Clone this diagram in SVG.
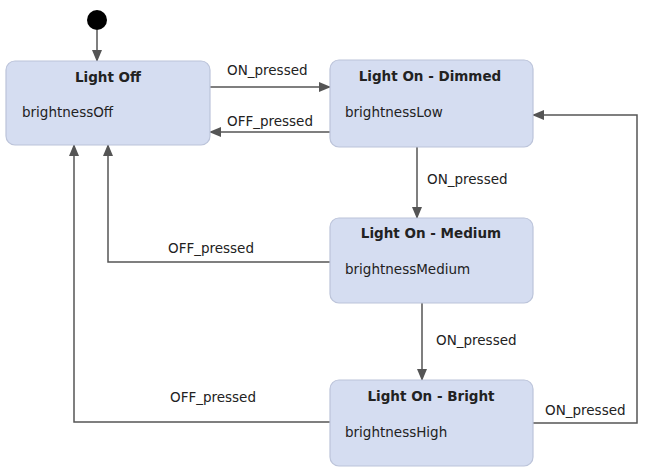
<svg xmlns="http://www.w3.org/2000/svg" width="649" height="472" viewBox="0 0 649 472">
<style>
.box{fill:#d5ddf1;stroke:#bcc4da;stroke-width:1.2}
.t{font-family:"DejaVu Sans",Verdana,sans-serif;font-size:13.5px;fill:#222}
.b{font-weight:bold;text-anchor:middle}
.c{fill:none;stroke:#555;stroke-width:1.5}
</style>
<defs>
<marker id="ah" markerWidth="12" markerHeight="10" refX="11" refY="5" orient="auto" markerUnits="userSpaceOnUse">
<path d="M0,0 L12,5 L0,10 z" fill="#555"/>
</marker>
</defs>
<rect width="649" height="472" fill="#fff"/>
<g id="connectors">
<path class="c" d="M97 30 V61" marker-end="url(#ah)"/>
<path class="c" d="M210 87 H330" marker-end="url(#ah)"/>
<path class="c" d="M330 132 H210" marker-end="url(#ah)"/>
<path class="c" d="M417 147 V218" marker-end="url(#ah)"/>
<path class="c" d="M330 262 H108 V145" marker-end="url(#ah)"/>
<path class="c" d="M422 303 V380" marker-end="url(#ah)"/>
<path class="c" d="M330 422 H74 V145" marker-end="url(#ah)"/>
<path class="c" d="M533 423 H637 V115 H533" marker-end="url(#ah)"/>
<text class="t" x="227" y="75">ON_pressed</text>
<text class="t" x="227" y="126">OFF_pressed</text>
<text class="t" x="427" y="184">ON_pressed</text>
<text class="t" x="168" y="253">OFF_pressed</text>
<text class="t" x="436" y="345">ON_pressed</text>
<text class="t" x="170" y="402">OFF_pressed</text>
<text class="t" x="545" y="415">ON_pressed</text>
</g>
<g id="initial"><circle cx="97" cy="20" r="10" fill="#000"/></g>
<g id="light-off">
<rect class="box" x="6" y="61" width="204" height="84" rx="9"/>
<text class="t b" x="108" y="82">Light Off</text>
<text class="t" x="22" y="117">brightnessOff</text>
</g>
<g id="dimmed">
<rect class="box" x="330" y="60" width="203" height="87" rx="9"/>
<text class="t b" x="430" y="81">Light On - Dimmed</text>
<text class="t" x="345" y="117">brightnessLow</text>
</g>
<g id="medium">
<rect class="box" x="330" y="218" width="203" height="85" rx="9"/>
<text class="t b" x="431" y="238">Light On - Medium</text>
<text class="t" x="345" y="274">brightnessMedium</text>
</g>
<g id="bright">
<rect class="box" x="330" y="380" width="203" height="86" rx="9"/>
<text class="t b" x="431" y="401">Light On - Bright</text>
<text class="t" x="345" y="437">brightnessHigh</text>
</g>
</svg>
